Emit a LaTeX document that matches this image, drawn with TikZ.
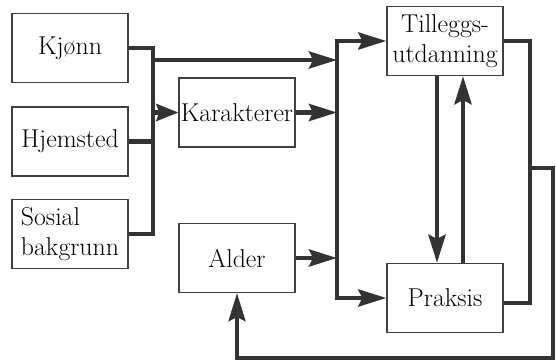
\documentclass[tikz,border=0pt]{standalone}
\usetikzlibrary{arrows.meta,positioning}
\tikzstyle{block} = [rectangle, draw=black!75, line width=1.3pt, minimum width=116pt, minimum height=69pt, inner sep=1pt, align=center, font=\fontsize{25.8}{30}\selectfont]
\tikzstyle{wire} = [draw=black!80, line width=4.5pt]
\tikzstyle{line} = [wire, -{Stealth[length=28pt,width=17pt,inset=4pt]}]
\tikzstyle{short line} = [wire, -{Stealth[length=22pt,width=17pt,inset=3pt]}]
\tikzstyle{twoway} = [wire, {Stealth[length=28pt,width=17pt,inset=4pt]}-{Stealth[length=28pt,width=17pt,inset=4pt]}]
\tikzstyle{back} = [draw=black!80, line width=3.5pt, -{Stealth[length=28pt,width=17pt,inset=4pt]}]

\begin{document}
\begin{tikzpicture}[x=1pt, y=-1pt]
	\useasboundingbox (0,0) rectangle (556,363);
	\node [block] (kjonn) at (70,48) {Kj\o nn};
	\node [block, below of=kjonn, node distance=93.5pt] (hjemsted) {Hjemsted};
	\node [block, below of=hjemsted, node distance=92.5pt, align=left] (sosial) {Sosial\\bakgrunn};
	\node [block] (karakterer) at (237,112.5) {Karakterer};
	\node [block, below of=karakterer, node distance=145.5pt] (alder) {Alder};
	\node [block] (tillegg) at (445,41) {Tilleggs-\\utdanning};
	\node [block, below of=tillegg, node distance=257pt] (praksis) {Praksis};
	% bus points
	\coordinate (busA) at (153,60);
	\coordinate (busB) at (337,150);
	\coordinate (loopR) at (530,168);
	\coordinate (loopE) at (553,168);
	\coordinate (loopB) at (553,358);
	\draw[wire] (kjonn.east) -- (kjonn.east -| busA) |- (sosial.east);
	\draw[wire] (hjemsted.east) -- (hjemsted.east -| busA);
	\path [line] (busA) -- (busA -| busB);
	\path [short line] (karakterer.west -| busA) -- (karakterer.west);
	\path [line] (karakterer.east) -- (karakterer.east -| busB);
	\path [line] (alder.east) -- (alder.east -| busB);
	\path [twoway] (tillegg.west) -| (busB) |- (praksis.west);
	\path [line] ([xshift=-8pt]tillegg.south) -- ([xshift=-8pt]praksis.north);
	\path [line] ([xshift=18pt]praksis.north) -- ([xshift=18pt]tillegg.south);
	\draw[wire] (tillegg.east) -| (loopR) |- ([yshift=-5pt]praksis.east);
	\path [back] (loopR) -- (loopE) |- (alder.south |- loopB) -- (alder.south);
\end{tikzpicture}
\end{document}
